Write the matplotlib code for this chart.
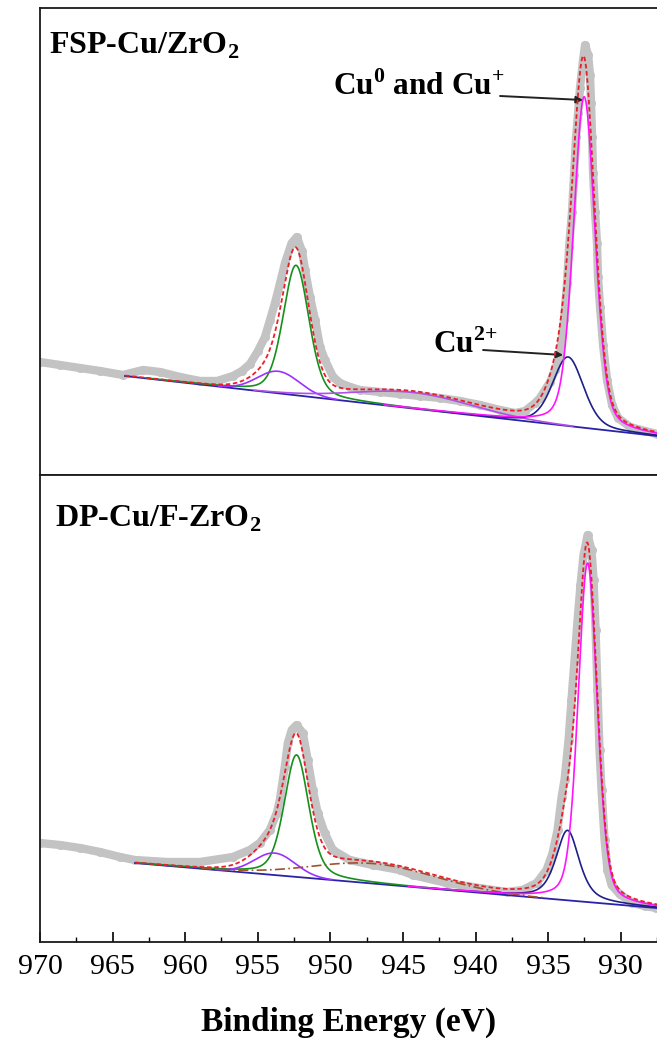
import numpy as np
import matplotlib
matplotlib.use('Agg')
import matplotlib.pyplot as plt

plt.rcParams['font.family'] = ['Liberation Serif', 'DejaVu Serif']
plt.rcParams['mathtext.fontset'] = 'custom'
plt.rcParams['mathtext.rm'] = 'Liberation Serif'
plt.rcParams['mathtext.bf'] = 'Liberation Serif:bold'

# ---------------- measured spectra (binding energy eV, intensity a.u.) ----------------
top_energy = [970.0, 968.62, 967.25, 965.87, 964.29, 962.91, 961.74, 960.36, 958.99, 957.82,
              956.72, 956.10, 955.55, 955.00, 954.52, 954.17, 953.83, 953.48, 953.14, 952.68,
              952.33, 951.97, 951.76, 951.42, 951.07, 950.73, 950.39, 949.83, 949.35, 948.67,
              947.98, 946.60, 945.22, 943.85, 942.47, 941.09, 939.72, 938.34, 937.31, 936.62,
              935.93, 935.59, 934.90, 934.56, 934.21, 933.94, 933.73, 933.59, 933.39, 933.25,
              933.11, 932.97, 932.84, 932.63, 932.49, 932.28, 932.15, 932.08, 932.01, 931.94,
              931.80, 931.67, 931.60, 931.46, 931.25, 930.98, 930.63, 930.22, 929.39, 928.36,
              927.54]
top_counts = [113, 110, 107, 104, 100, 105, 103, 98, 94, 94,
              99, 104, 111, 124, 138, 155, 172, 192, 212, 232,
              238, 224, 205, 178, 155, 128, 115, 98, 92, 88,
              85, 83, 81, 79, 77, 74, 70, 65, 62, 64,
              72, 77, 93, 105, 120, 155, 192, 228, 263, 300,
              338, 362, 387, 415, 430, 420, 400, 372, 338, 302,
              263, 232, 198, 168, 130, 95, 70, 57, 48, 44,
              41]

bot_energy = [970.0, 968.62, 967.25, 965.87, 964.49, 963.46, 961.26, 958.99, 956.72, 955.55,
              954.86, 954.17, 953.69, 953.48, 953.14, 952.93, 952.66, 952.33, 951.90, 951.56,
              951.21, 950.87, 950.39, 949.83, 948.67, 947.08, 945.22, 944.33, 941.99, 939.72,
              937.86, 936.76, 935.79, 935.11, 934.69, 934.35, 934.07, 933.87, 933.59, 933.39,
              933.18, 932.97, 932.77, 932.56, 932.28, 932.01, 931.87, 931.73, 931.60, 931.46,
              931.32, 931.11, 930.91, 930.63, 930.08, 929.19, 928.36, 927.54]
bot_counts = [99, 97, 94, 90, 85, 82, 80, 80, 85, 92,
              99, 112, 129, 142, 175, 199, 212, 217, 209, 182,
              152, 129, 109, 92, 82, 77, 72, 67, 59, 54,
              50, 52, 59, 72, 89, 112, 145, 162, 202, 242,
              282, 322, 357, 387, 407, 392, 362, 312, 252, 192,
              152, 102, 72, 57, 48, 39, 36, 34]

# ---------------- fitted components (center eV, height, FWHM eV, Lorentz fraction) ----------------
top_center = [952.38, 953.60, 944.30, 933.66, 932.55]
top_height = [130, 22, 16, 69, 331]
top_fwhm = [2.1, 3.4, 9.5, 2.5, 1.75]
top_eta = [0.3, 0.0, 0.0, 0.3, 0.3]
top_bg_energy = [964.15, 927.54]
top_bg_level = [99, 39]

bot_center = [952.33, 953.83, 947.00, 933.66, 932.28]
bot_height = [122, 22, 20, 70, 339]
bot_fwhm = [2.0, 3.3, 10.0, 1.9, 1.55]
bot_eta = [0.4, 0.0, 0.0, 0.6, 0.3]
bot_bg_energy = [963.46, 927.54]
bot_bg_level = [79, 34]

top_colors = ['#16901c', '#9b30ff', '#b050e8', '#1f1f8a', '#ff14ff']
bot_colors = ['#16901c', '#9b30ff', '#a0522d', '#1f1f8a', '#ff14ff']
bot_styles = ['-', '-', (0, (6, 2, 1, 2)), '-', '-']


def pvoigt(e, c, h, w, eta):
    g = np.exp(-4 * np.log(2) * ((e - c) / w) ** 2)
    lo = 1.0 / (1.0 + 4 * ((e - c) / w) ** 2)
    return h * (eta * lo + (1 - eta) * g)


fig = plt.figure(figsize=(6.57, 10.48), dpi=100)
ax_top = fig.add_axes([40 / 657, 1 - 475 / 1048, 617 / 657, 467 / 1048])
ax_bot = fig.add_axes([40 / 657, 1 - 942 / 1048, 617 / 657, 467 / 1048])


def draw_panel(ax, en, ct, cen, hei, fw, eta, bge, bgl, colors, styles):
    ax.plot(en, ct, '-', color='#c3c3c3', lw=6.0, solid_capstyle='round',
            solid_joinstyle='round', zorder=1)
    ax.plot(en, ct, 'o', color='#c3c3c3', ms=6.5, mec='none', zorder=1)
    e = np.linspace(bge[0], 927.0, 1500)
    slope = (bgl[1] - bgl[0]) / (bge[1] - bge[0])
    bg = bgl[0] + slope * (e - bge[0])
    ax.plot(e, bg, color='#2a22a8', lw=1.3, zorder=2)
    env = bg.copy()
    for c, h, w, et, col, st in zip(cen, hei, fw, eta, colors, styles):
        p = pvoigt(e, c, h, w, et)
        env += p
        m = p > 0.4
        ax.plot(e[m], (bg + p)[m], color=col, lw=1.2, ls=st, zorder=3)
    ax.plot(e, env, color='#e8202a', lw=1.3, ls=(0, (2.5, 1.5)), zorder=4)
    ax.set_xlim(970, 927.54)
    ax.set_ylim(0, 467)
    ax.set_yticks([])
    for s in ['top', 'bottom', 'left']:
        ax.spines[s].set_linewidth(1.3)
        ax.spines[s].set_color('#1a1a1a')
    ax.spines['right'].set_visible(False)


draw_panel(ax_top, top_energy, top_counts, top_center, top_height, top_fwhm, top_eta,
           top_bg_energy, top_bg_level, top_colors, ['-'] * 5)
draw_panel(ax_bot, bot_energy, bot_counts, bot_center, bot_height, bot_fwhm, bot_eta,
           bot_bg_energy, bot_bg_level, bot_colors, bot_styles)

ax_top.set_xticks([])
ax_bot.set_xticks(np.arange(970, 929, -5))
ax_bot.set_xticks(np.arange(967.5, 927, -5), minor=True)
ax_bot.tick_params(axis='x', which='major', direction='in', length=7, width=1.2,
                   labelsize=21.5, pad=9, top=False)
ax_bot.tick_params(axis='x', which='minor', direction='in', length=3.5, width=1.0, top=False)
ax_bot.set_xlabel('Binding Energy (eV)', fontsize=24, fontweight='bold', labelpad=19)

ax_top.text(0.0146, 0.9015, r'FSP-Cu/ZrO$_{\mathbf{2}}$', transform=ax_top.transAxes,
            fontsize=23, fontweight='bold', va='baseline', ha='left')
ax_bot.text(0.0243, 0.8887, r'DP-Cu/F-ZrO$_{\mathbf{2}}$', transform=ax_bot.transAxes,
            fontsize=23, fontweight='bold', va='baseline', ha='left')

ax_top.text(0.4749, 0.8137, r'Cu$^{\mathbf{0}}$ and Cu$^{\mathbf{+}}$', transform=ax_top.transAxes,
            fontsize=22.5, fontweight='bold', va='baseline', ha='left')
ax_top.annotate('', xy=(932.63, 375), xytext=(938.34, 379),
                arrowprops=dict(arrowstyle='-|>', color='#222222', lw=1.4,
                                mutation_scale=10, shrinkA=0, shrinkB=0))
ax_top.text(0.637, 0.2612, r'Cu$^{\mathbf{2{+}}}$', transform=ax_top.transAxes,
            fontsize=22.5, fontweight='bold', va='baseline', ha='left')
ax_top.annotate('', xy=(934.0, 120), xytext=(939.51, 125),
                arrowprops=dict(arrowstyle='-|>', color='#222222', lw=1.4,
                                mutation_scale=10, shrinkA=0, shrinkB=0))

fig.savefig('out.png', dpi=100)
